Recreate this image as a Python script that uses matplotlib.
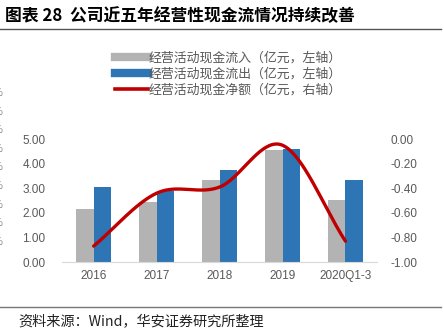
import numpy as np
import matplotlib.pyplot as plt
from matplotlib.lines import Line2D

plt.rcParams['font.family'] = ['Liberation Sans', 'Noto Sans CJK SC', 'DejaVu Sans']

# ------------------------------------------------------------
# Data
# ------------------------------------------------------------
years = ["2016", "2017", "2018", "2019", "2020Q1-3"]
cash_in = [2.15, 2.45, 3.34, 4.54, 2.51]     # 亿元, left axis
cash_out = [3.04, 2.90, 3.75, 4.60, 3.34]    # 亿元, left axis
net_cash = [-0.87, -0.44, -0.39, -0.05, -0.83]  # 亿元, right axis

left_ticks = [0, 1, 2, 3, 4, 5]
right_ticks = [-1.0, -0.8, -0.6, -0.4, -0.2, 0.0]

GRAY = "#B3B3B3"
BLUE = "#2E75B6"
RED = "#C00000"
TXT = "#595959"
CJK = ['Noto Sans CJK SC', 'DejaVu Sans']


def smooth(xs, ys, n=40):
    # Catmull-Rom style smoothing, like a spreadsheet "smoothed line"
    xs = np.asarray(xs, float)
    ys = np.asarray(ys, float)
    px = np.concatenate([[2 * xs[0] - xs[1]], xs, [2 * xs[-1] - xs[-2]]])
    py = np.concatenate([[2 * ys[0] - ys[1]], ys, [2 * ys[-1] - ys[-2]]])
    ox, oy = [], []
    for i in range(1, len(px) - 2):
        t = np.linspace(0, 1, n)
        for p, out in ((px, ox), (py, oy)):
            p0, p1, p2, p3 = p[i - 1], p[i], p[i + 1], p[i + 2]
            out.extend(0.5 * ((2 * p1) + (-p0 + p2) * t
                              + (2 * p0 - 5 * p1 + 4 * p2 - p3) * t ** 2
                              + (-p0 + 3 * p1 - 3 * p2 + p3) * t ** 3))
    return np.array(ox), np.array(oy)


# ------------------------------------------------------------
# Figure
# ------------------------------------------------------------
fig = plt.figure(figsize=(4.44, 3.36), dpi=100)
ax = fig.add_axes([0.140, 0.220, 0.709, 0.366])
ax2 = ax.twinx()

x = np.arange(len(years))
w = 0.28
ax.bar(x - w / 2, cash_in, w, color=GRAY, zorder=2)
ax.bar(x + w / 2, cash_out, w, color=BLUE, zorder=2)

sx, sy = smooth(x, net_cash)
ax2.plot(sx, sy, color=RED, lw=2.4, solid_capstyle="round", clip_on=False)

ax.set_xlim(-0.5, len(years) - 0.5)
ax.set_ylim(0, 5)
ax2.set_ylim(-1, 0)
ax.set_yticks(left_ticks)
ax.set_yticklabels([f"{v:.2f}" for v in left_ticks])
ax2.set_yticks(right_ticks)
ax2.set_yticklabels([f"{v:.2f}" for v in right_ticks])
ax.set_xticks(x)
ax.set_xticklabels(years)

for a in (ax, ax2):
    for s in a.spines.values():
        s.set_visible(False)
    a.tick_params(length=0, labelsize=8.5, labelcolor=TXT)
ax.spines["bottom"].set_visible(True)
ax.spines["bottom"].set_color("#D9D9D9")
ax.tick_params(axis="y", pad=12)
ax.tick_params(axis="x", pad=6)
ax2.tick_params(axis="y", pad=10)
ax2.set_zorder(ax.get_zorder() + 1)
ax2.patch.set_visible(False)

# legend
handles = [Line2D([], [], color=GRAY, lw=6),
           Line2D([], [], color=BLUE, lw=6),
           Line2D([], [], color=RED, lw=2.6)]
labels = ["经营活动现金流入（亿元，左轴）",
          "经营活动现金流出（亿元，左轴）",
          "经营活动现金净额（亿元，右轴）"]
leg = fig.legend(handles, labels, loc="upper left",
                 bbox_to_anchor=(109 / 444, 1 - 45 / 336),
                 frameon=False, handlelength=2.5, handletextpad=0.05,
                 labelspacing=0.22, borderpad=0,
                 prop={"family": CJK, "size": 9.3})
for t in leg.get_texts():
    t.set_color(TXT)

# title, rules and source
fig.text(0.012, 1 - 16 / 336, "图表 28  公司近五年经营性现金流情况持续改善",
         family=CJK, fontsize=12.1, fontweight="bold", va="center")
fig.add_artist(Line2D([0, 0.993], [1 - 29 / 336] * 2, color="#555555", lw=1))
fig.add_artist(Line2D([0, 0.993], [1 - 307 / 336] * 2, color="#777777", lw=1))
fig.text(18 / 444, 1 - 322 / 336, "资料来源：Wind，华安证券研究所整理",
         family=CJK, fontsize=10.2, va="center", color="#222222")

# clipped "%" marks from the neighbouring chart
for k in range(9):
    fig.text(-0.016, 1 - (93 + 18.6 * k) / 336, "%", fontsize=8,
             color="#888888", va="center")

fig.savefig("out.png", dpi=100)
